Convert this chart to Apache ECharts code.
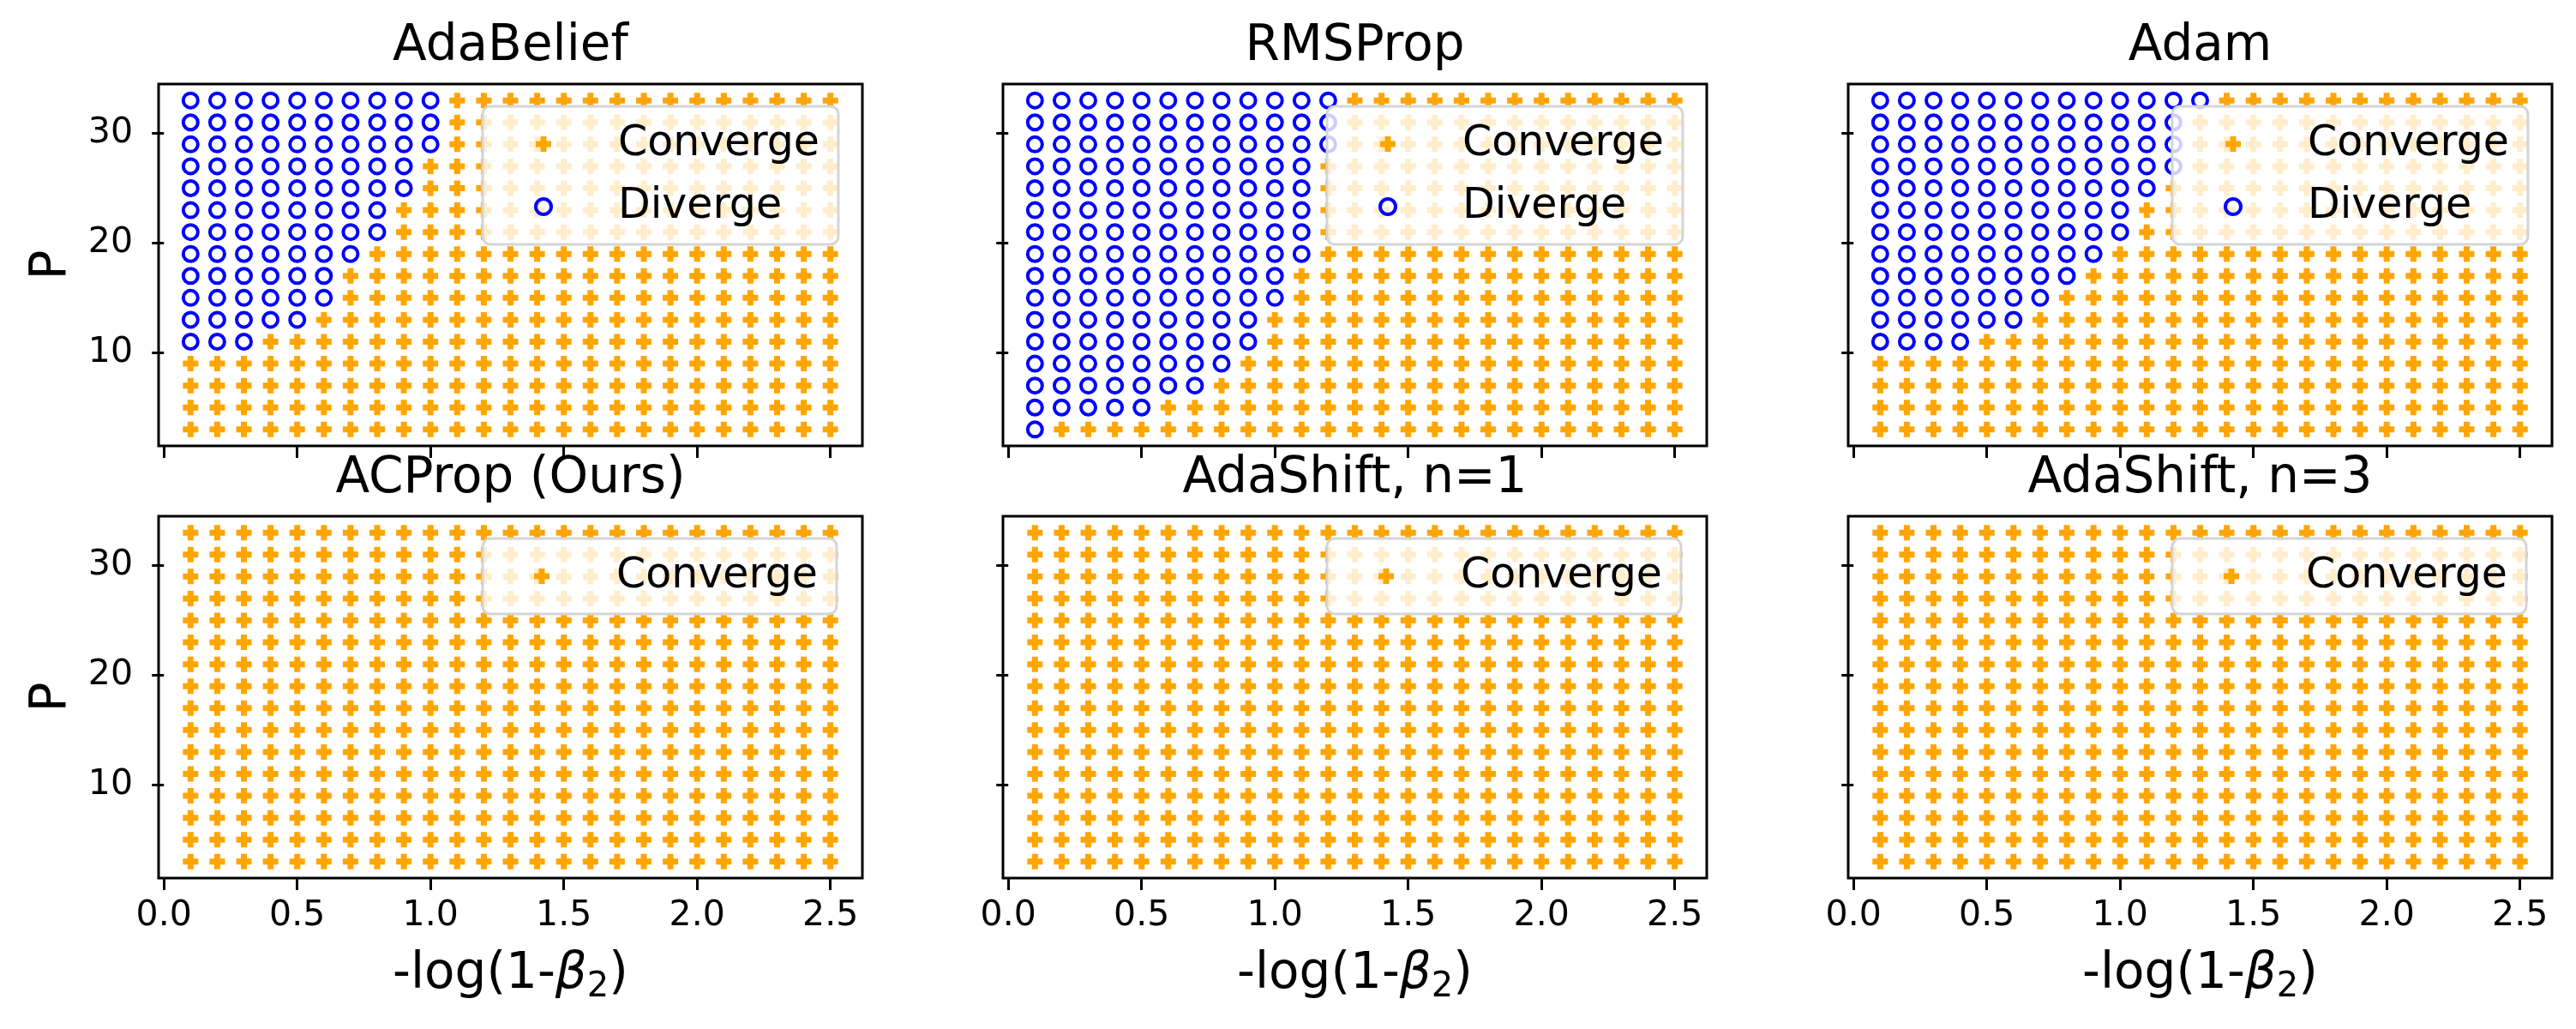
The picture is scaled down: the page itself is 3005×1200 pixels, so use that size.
<!DOCTYPE html>
<html>
<head>
<meta charset="utf-8">
<script src="https://cdn.jsdelivr.net/npm/echarts@6/dist/echarts.min.js"></script>
<style>
  html, body { margin: 0; padding: 0; background: #fff; }
  #chart { width: 3005px; height: 1200px; }
</style>
</head>
<body>
<div id="chart"></div>
<script>
// ---------------- data ----------------
const xValues = [0.1, 0.2, 0.3, 0.4, 0.5, 0.6, 0.7, 0.8, 0.9, 1.0, 1.1, 1.2, 1.3,
                 1.4, 1.5, 1.6, 1.7, 1.8, 1.9, 2.0, 2.1, 2.2, 2.3, 2.4, 2.5];
const pValues = [3, 5, 7, 9, 11, 13, 15, 17, 19, 21, 23, 25, 27, 29, 31, 33];

const panelTitles = ['AdaBelief', 'RMSProp', 'Adam', 'ACProp (Ours)', 'AdaShift, n=1', 'AdaShift, n=3'];

// largest -log(1-beta2) that diverges, for each P in pValues (null = none diverge)
const adaBeliefDivergeMax = [null, null, null, null, 0.3, 0.5, 0.6, 0.6, 0.7, 0.8, 0.8, 0.9, 0.9, 1.0, 1.0, 1.0];
const rmsPropDivergeMax   = [0.1, 0.5, 0.7, 0.8, 0.9, 0.9, 1.0, 1.0, 1.1, 1.1, 1.1, 1.1, 1.1, 1.2, 1.2, 1.2];
const adamDivergeMax      = [null, null, null, null, 0.4, 0.6, 0.7, 0.8, 0.9, 1.0, 1.0, 1.1, 1.2, 1.2, 1.2, 1.3];
const acPropDivergeMax    = [null, null, null, null, null, null, null, null, null, null, null, null, null, null, null, null];
const adaShift1DivergeMax = [null, null, null, null, null, null, null, null, null, null, null, null, null, null, null, null];
const adaShift3DivergeMax = [null, null, null, null, null, null, null, null, null, null, null, null, null, null, null, null];

const panelDiverge = [adaBeliefDivergeMax, rmsPropDivergeMax, adamDivergeMax,
                      acPropDivergeMax, adaShift1DivergeMax, adaShift3DivergeMax];

const xTicks = [0.0, 0.5, 1.0, 1.5, 2.0, 2.5];
const yTicks = [10, 20, 30];

// ---------------- layout ----------------
const FONT = 'DejaVu Sans';
const gridLefts = [185, 1170, 2156];
const gridTops = [98, 602];
const gridW = 821, gridH = 422;

const plusPath = 'path://M5.5,0H12.5V5.5H18V12.5H12.5V18H5.5V12.5H0V5.5H5.5Z';

const grids = [], xAxes = [], yAxes = [], series = [], titles = [], legends = [];

for (let i = 0; i < 6; i++) {
  const col = i % 3, row = Math.floor(i / 3);
  const left = gridLefts[col], top = gridTops[row];
  grids.push({
    left: left, top: top, width: gridW, height: gridH,
    show: true, borderColor: '#000', borderWidth: 3, backgroundColor: '#fff',
    containLabel: false
  });
  xAxes.push({
    type: 'value', gridIndex: i, min: -0.02, max: 2.62,
    axisLine: { show: false },
    splitLine: { show: false },
    axisTick: { show: true, length: 14, customValues: xTicks, lineStyle: { color: '#000', width: 3 } },
    axisLabel: {
      show: row === 1, customValues: xTicks, margin: 24,
      formatter: v => v.toFixed(1),
      fontFamily: FONT, fontSize: 41, color: '#000'
    },
    name: row === 1 ? '-log(1-{b|β}{s|2})' : '',
    nameLocation: 'middle', nameGap: 78,
    nameTextStyle: {
      fontFamily: FONT, fontSize: 58, color: '#000', lineHeight: 70,
      rich: {
        b: { fontFamily: FONT, fontSize: 58, fontStyle: 'italic', color: '#000', lineHeight: 70 },
        s: { fontFamily: FONT, fontSize: 40, color: '#000', lineHeight: 40, verticalAlign: 'bottom' }
      }
    }
  });
  yAxes.push({
    type: 'value', gridIndex: i, min: 1.5, max: 34.5,
    axisLine: { show: false },
    splitLine: { show: false },
    axisTick: { show: true, length: 14, customValues: yTicks, lineStyle: { color: '#000', width: 3 } },
    axisLabel: {
      show: col === 0, customValues: yTicks, margin: 30,
      fontFamily: FONT, fontSize: 41, color: '#000'
    },
    name: col === 0 ? 'P' : '',
    nameLocation: 'middle', nameGap: 95, nameRotate: 90,
    nameTextStyle: { fontFamily: FONT, fontSize: 58, color: '#000' }
  });

  const divMax = panelDiverge[i];
  const conv = [], div = [];
  pValues.forEach((p, pi) => {
    xValues.forEach(x => {
      if (divMax[pi] !== null && x <= divMax[pi] + 1e-9) div.push([x, p]);
      else conv.push([x, p]);
    });
  });
  series.push({
    name: 'Converge', type: 'scatter', xAxisIndex: i, yAxisIndex: i,
    symbol: plusPath, symbolSize: 18,
    itemStyle: { color: '#FFA500', opacity: 1 },
    emphasis: { disabled: true }, silent: true,
    data: conv
  });
  if (div.length) {
    series.push({
      name: 'Diverge', type: 'scatter', xAxisIndex: i, yAxisIndex: i,
      symbol: 'circle', symbolSize: 17,
      itemStyle: { color: 'rgba(0,0,0,0)', borderColor: '#0000FF', borderWidth: 4, opacity: 1 },
      emphasis: { disabled: true }, silent: true,
      data: div
    });
  }

  titles.push({
    text: panelTitles[i],
    left: left + gridW / 2, top: row === 0 ? 26 : 530,
    textAlign: 'center', padding: 0,
    textStyle: { fontFamily: FONT, fontSize: 58, fontWeight: 'normal', color: '#000' }
  });

  const legendData = div.length
    ? [{ name: 'Converge' }, { name: 'Diverge', itemStyle: { borderWidth: 4, borderColor: '#0000FF', color: 'rgba(0,0,0,0)' } }]
    : [{ name: 'Converge' }];
  legends.push({
    orient: 'vertical',
    left: left + 378, top: top + 26,
    padding: [19, 22, 19, 60],
    itemWidth: 18, itemHeight: 18, itemGap: 23,
    backgroundColor: 'rgba(255,255,255,0.8)',
    borderColor: '#d5d5d5', borderWidth: 3, borderRadius: 9,
    selectedMode: false,
    formatter: name => '{g| }' + name,
    textStyle: {
      fontFamily: FONT, fontSize: 49, color: '#000', lineHeight: 50,
      rich: { g: { width: 73, fontSize: 49, lineHeight: 50 } }
    },
    data: legendData
  });
}

const chart = echarts.init(document.getElementById('chart'), null, { renderer: 'canvas', width: 3005, height: 1200 });
chart.setOption({
  animation: false,
  backgroundColor: '#fff',
  title: titles,
  legend: legends,
  grid: grids,
  xAxis: xAxes,
  yAxis: yAxes,
  series: series
});
</script>
</body>
</html>
